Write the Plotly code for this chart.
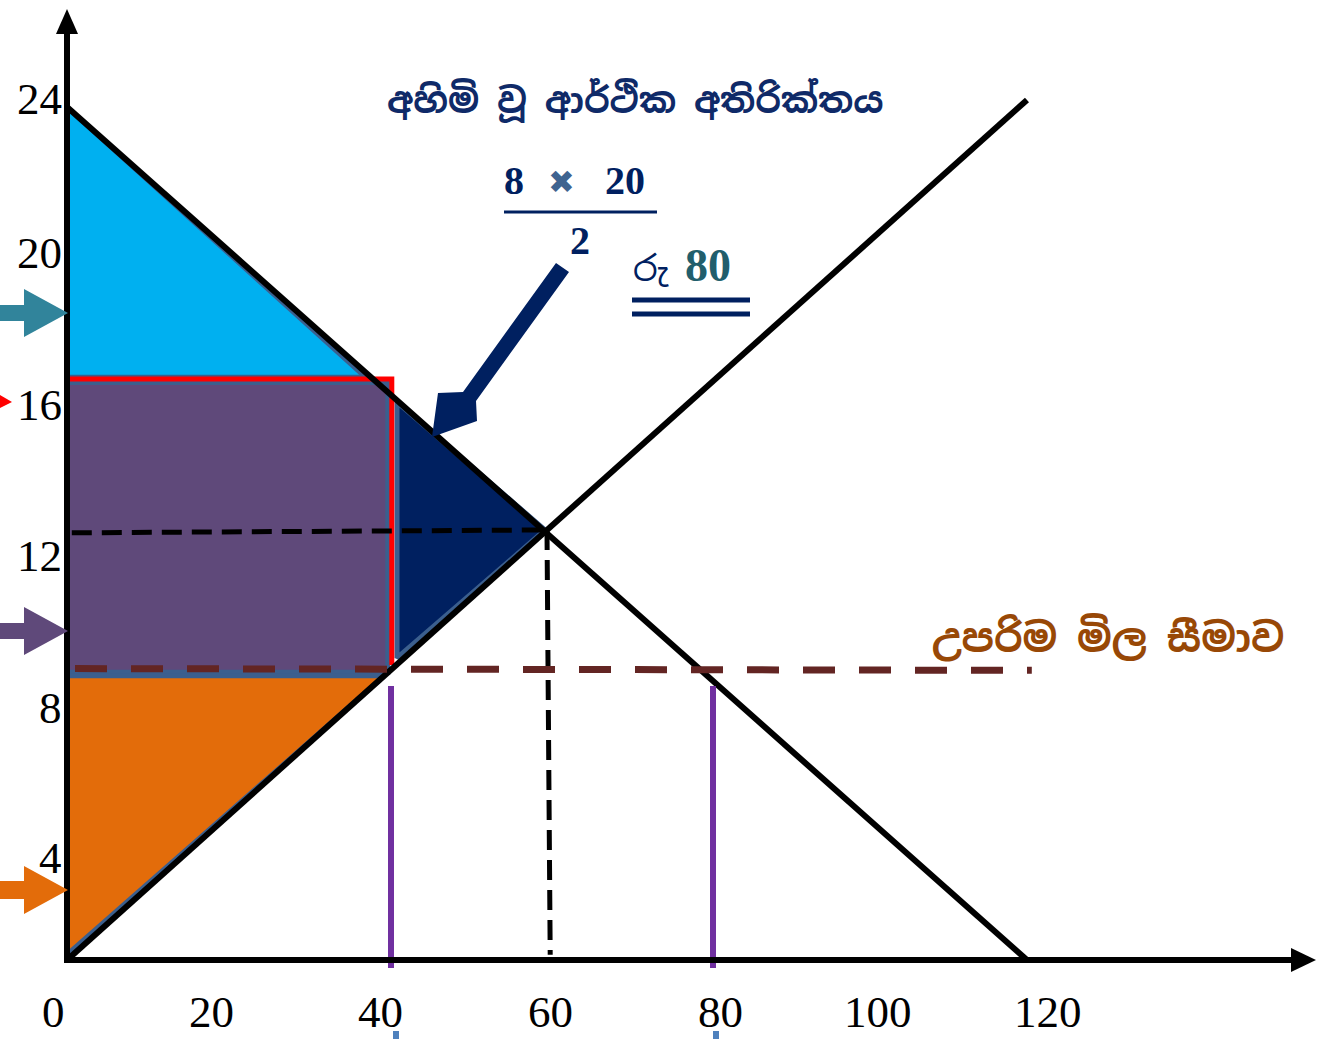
import plotly.graph_objects as go

# ---------------- data (economic values) ----------------
demand_q = [0, 120]
demand_p = [24, 0]
supply_q = [0, 120]
supply_p = [0, 24.2]

equilibrium_q = 60
equilibrium_p = 12.1
ceiling_p = 8.2
qty_supplied_at_ceiling = 40.5
qty_demanded_at_ceiling = 80.75

# shaded regions (quantity, price vertices)
consumer_q = [0, 0, 37.3]
consumer_p = [24, 16.4, 16.4]
transfer_q = [0, 40.1, 40.1, 0]
transfer_p = [16.25, 16.25, 8.1, 8.1]
producer_q = [0, 0, 39.7]
producer_p = [8.0, 0.15, 8.0]
dwl_q = [41.25, 41.25, 59.75]
dwl_p = [15.7, 8.5, 12.1]
red_q = [0, 40.6, 40.6]
red_p = [16.35, 16.35, 8.3]

x_tick_labels = ["0", "20", "40", "60", "80", "100", "120"]
y_tick_labels = ["24", "20", "16", "12", "8", "4"]

title_text = "අහිමි වූ ආර්ථික අතිරික්තය"
ceiling_text = "උපරිම මිල සීමාව"
calc_num_a = "8"
calc_num_b = "20"
calc_den = "2"
currency = "රු"
result = "80"

# ---------------- layout helpers (pixel -> axis coords) ----------------
X0, Y0, SX, SY = 67, 960, 8.0, 35.54
W, H = 1317, 1039


def X(px):
    return (px - X0) / SX


def Y(py):
    return (Y0 - py) / SY


def path(points):
    return "M " + " L ".join(f"{X(a):.4f},{Y(b):.4f}" for a, b in points) + " Z"


OUTLINE = "#3B5F8E"
fig = go.Figure()

fills = [
    (consumer_q, consumer_p, "#00B0F0"),
    (transfer_q, transfer_p, "#5F497A"),
    (producer_q, producer_p, "#E36C0A"),
    (dwl_q, dwl_p, "#002060"),
]
for q, p, c in fills:
    fig.add_trace(go.Scatter(x=q + [q[0]], y=p + [p[0]], mode="lines", fill="toself",
                             fillcolor=c, line=dict(color=OUTLINE, width=5),
                             hoverinfo="skip", showlegend=False))

# red outline of transferred surplus
fig.add_trace(go.Scatter(x=red_q, y=red_p, mode="lines",
                         line=dict(color="#FF0000", width=5), hoverinfo="skip", showlegend=False))

# demand & supply
fig.add_trace(go.Scatter(x=demand_q, y=demand_p, mode="lines",
                         line=dict(color="black", width=6), hoverinfo="skip", showlegend=False))
fig.add_trace(go.Scatter(x=supply_q, y=supply_p, mode="lines",
                         line=dict(color="black", width=6), hoverinfo="skip", showlegend=False))

# equilibrium dashed guides
fig.add_trace(go.Scatter(x=[0.6, equilibrium_q], y=[12.02, equilibrium_p], mode="lines",
                         line=dict(color="black", width=5, dash="20px,10px"),
                         hoverinfo="skip", showlegend=False))
fig.add_trace(go.Scatter(x=[equilibrium_q, 60.4], y=[equilibrium_p, 0.15], mode="lines",
                         line=dict(color="black", width=5, dash="20px,10px"),
                         hoverinfo="skip", showlegend=False))

# price ceiling
fig.add_trace(go.Scatter(x=[1.0, 120.6], y=[ceiling_p, 8.15], mode="lines",
                         line=dict(color="#632523", width=7, dash="32px,24px"),
                         hoverinfo="skip", showlegend=False))

# quantity markers at the ceiling
for q in (qty_supplied_at_ceiling, qty_demanded_at_ceiling):
    fig.add_trace(go.Scatter(x=[q, q], y=[Y(686), Y(968)], mode="lines",
                             line=dict(color="#7030A0", width=6), hoverinfo="skip", showlegend=False))

shapes = []
# axes with arrow heads
shapes.append(dict(type="line", x0=X(67), y0=Y(963), x1=X(67), y1=Y(30),
                   line=dict(color="black", width=6)))
shapes.append(dict(type="path", path=path([(56, 34), (78, 34), (67, 9)]),
                   fillcolor="black", line=dict(width=0)))
shapes.append(dict(type="line", x0=X(64), y0=Y(960), x1=X(1295), y1=Y(960),
                   line=dict(color="black", width=6)))
shapes.append(dict(type="path", path=path([(1291, 948), (1291, 972), (1316, 960)]),
                   fillcolor="black", line=dict(width=0)))


def block_arrow(y, half_shaft, half_head, color, x_start=0, x_base=24, x_tip=68):
    return dict(type="path",
                path=path([(x_start, y - half_shaft), (x_base, y - half_shaft), (x_base, y - half_head),
                           (x_tip, y), (x_base, y + half_head), (x_base, y + half_shaft),
                           (x_start, y + half_shaft)]),
                fillcolor=color, line=dict(width=0))


# left side arrows
shapes.append(block_arrow(313, 8, 24, "#31849B"))
shapes.append(block_arrow(631, 8, 24, "#5F497A"))
shapes.append(block_arrow(890, 9, 24, "#E36C0A"))
shapes.append(dict(type="path", path=path([(0, 395), (0, 408), (12, 402)]),
                   fillcolor="#FF0000", line=dict(width=0)))

# big navy pointer arrow
shapes.append(dict(type="path",
                   path=path([(569, 272), (556, 263), (463, 392), (438, 393), (432, 437),
                              (477, 421), (476, 401)]),
                   fillcolor="#002060", line=dict(width=0)))

# fraction bar and double underline
shapes.append(dict(type="line", x0=X(504), y0=Y(212), x1=X(657), y1=Y(212),
                   line=dict(color="#002060", width=3)))
shapes.append(dict(type="line", x0=X(632), y0=Y(300), x1=X(750), y1=Y(300),
                   line=dict(color="#002060", width=5)))
shapes.append(dict(type="line", x0=X(632), y0=Y(314), x1=X(750), y1=Y(314),
                   line=dict(color="#002060", width=5)))
# small blue marks below axis labels
for px in (396, 716):
    shapes.append(dict(type="rect", x0=X(px - 3), y0=Y(1039), x1=X(px + 3), y1=Y(1031),
                       fillcolor="#4F81BD", line=dict(width=0)))

annotations = []
SERIF = "Liberation Serif, Times New Roman, serif"
SINH = "Noto Sans Sinhala, Noto Serif Sinhala, Iskoola Pota, Noto Sans, sans-serif"
x_label_px = [53, 211, 380, 550, 720, 878, 1048]
for t, px in zip(x_tick_labels, x_label_px):
    annotations.append(dict(x=X(px), y=Y(1012), text=t, showarrow=False,
                            font=dict(family=SERIF, size=45, color="black"),
                            xanchor="center", yanchor="middle"))
y_label_py = [99, 253, 405, 556, 708, 858]
for t, py in zip(y_tick_labels, y_label_py):
    annotations.append(dict(x=X(64), y=Y(py), text=t, showarrow=False,
                            font=dict(family=SERIF, size=45, color="black"),
                            xanchor="right", yanchor="middle"))

annotations.append(dict(x=X(635), y=Y(100), text=f"<b>{title_text}</b>", showarrow=False,
                        font=dict(family=SINH, size=35.5, color="#0F2A68"),
                        xanchor="center", yanchor="middle"))
annotations.append(dict(x=X(1108), y=Y(638), text=f"<b>{ceiling_text}</b>", showarrow=False,
                        font=dict(family=SINH, size=39.5, color="#984806"),
                        xanchor="center", yanchor="middle"))
for t, px, py, col in [(calc_num_a, 514, 180, "#002060"), ("✖", 561, 182, "#3F6490"),
                       (calc_num_b, 625, 180, "#002060"), (calc_den, 580, 240, "#002060")]:
    annotations.append(dict(x=X(px), y=Y(py), text=f"<b>{t}</b>", showarrow=False,
                            font=dict(family=SERIF if t != "✖" else "DejaVu Sans",
                                      size=40 if t != "✖" else 32, color=col),
                            xanchor="center", yanchor="middle"))
annotations.append(dict(x=X(651), y=Y(268), text=currency, showarrow=False,
                        font=dict(family=SINH, size=35, color="#002060"),
                        xanchor="center", yanchor="middle"))
annotations.append(dict(x=X(708), y=Y(265), text=f"<b>{result}</b>", showarrow=False,
                        font=dict(family=SERIF, size=46, color="#215E6C"),
                        xanchor="center", yanchor="middle"))

fig.update_layout(
    width=W, height=H, autosize=False,
    margin=dict(l=0, r=0, t=0, b=0, pad=0),
    paper_bgcolor="white", plot_bgcolor="white",
    xaxis=dict(range=[X(0), X(W)], visible=False, fixedrange=True),
    yaxis=dict(range=[Y(H), Y(0)], visible=False, fixedrange=True),
    shapes=shapes, annotations=annotations, showlegend=False,
)

fig.write_html("out.html", config={"displayModeBar": False},
               post_script="document.body.style.margin='0';")
